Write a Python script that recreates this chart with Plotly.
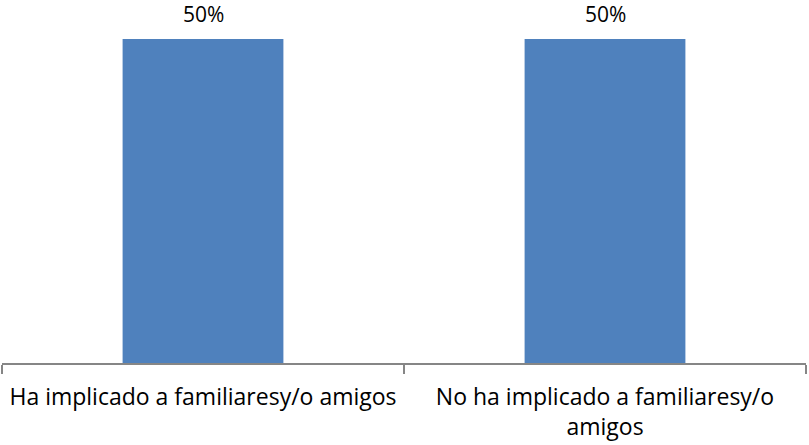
import plotly.graph_objects as go

categories = ["Ha implicado a familiaresy/o amigos", "No ha implicado a familiaresy/o<br>amigos"]
values = [50, 50]
value_labels = ["50%", "50%"]

fig = go.Figure()
fig.add_trace(go.Bar(x=categories, y=values, marker=dict(color="#4F81BD", line=dict(width=0)),
                     width=0.4, hoverinfo="skip"))
for c, v, t in zip(categories, values, value_labels):
    fig.add_annotation(x=c, y=v, text=t, showarrow=False, yanchor="middle", yshift=25,
                       borderpad=0,
                       font=dict(family="Open Sans", size=21, color="#000000"))

fig.update_layout(
    width=809, height=445,
    margin=dict(l=1.5, r=3, t=0, b=82),
    plot_bgcolor="white", paper_bgcolor="white",
    showlegend=False,
    bargap=0.6,
    font=dict(family="Open Sans", size=23, color="#000000"),
)
fig.update_xaxes(showline=True, linecolor="#868686", linewidth=1.5,
                 ticks="outside", ticklen=9, tickcolor="#868686", tickwidth=1.5,
                 tickson="boundaries", ticklabelstandoff=13, automargin=False,
                 tickfont=dict(family="Open Sans", size=23, color="#000000"))
fig.update_yaxes(visible=False, range=[0, 56], showgrid=False)

fig.write_html("out.html", config={"displayModeBar": False},
               post_script="document.body.style.margin='0';")
